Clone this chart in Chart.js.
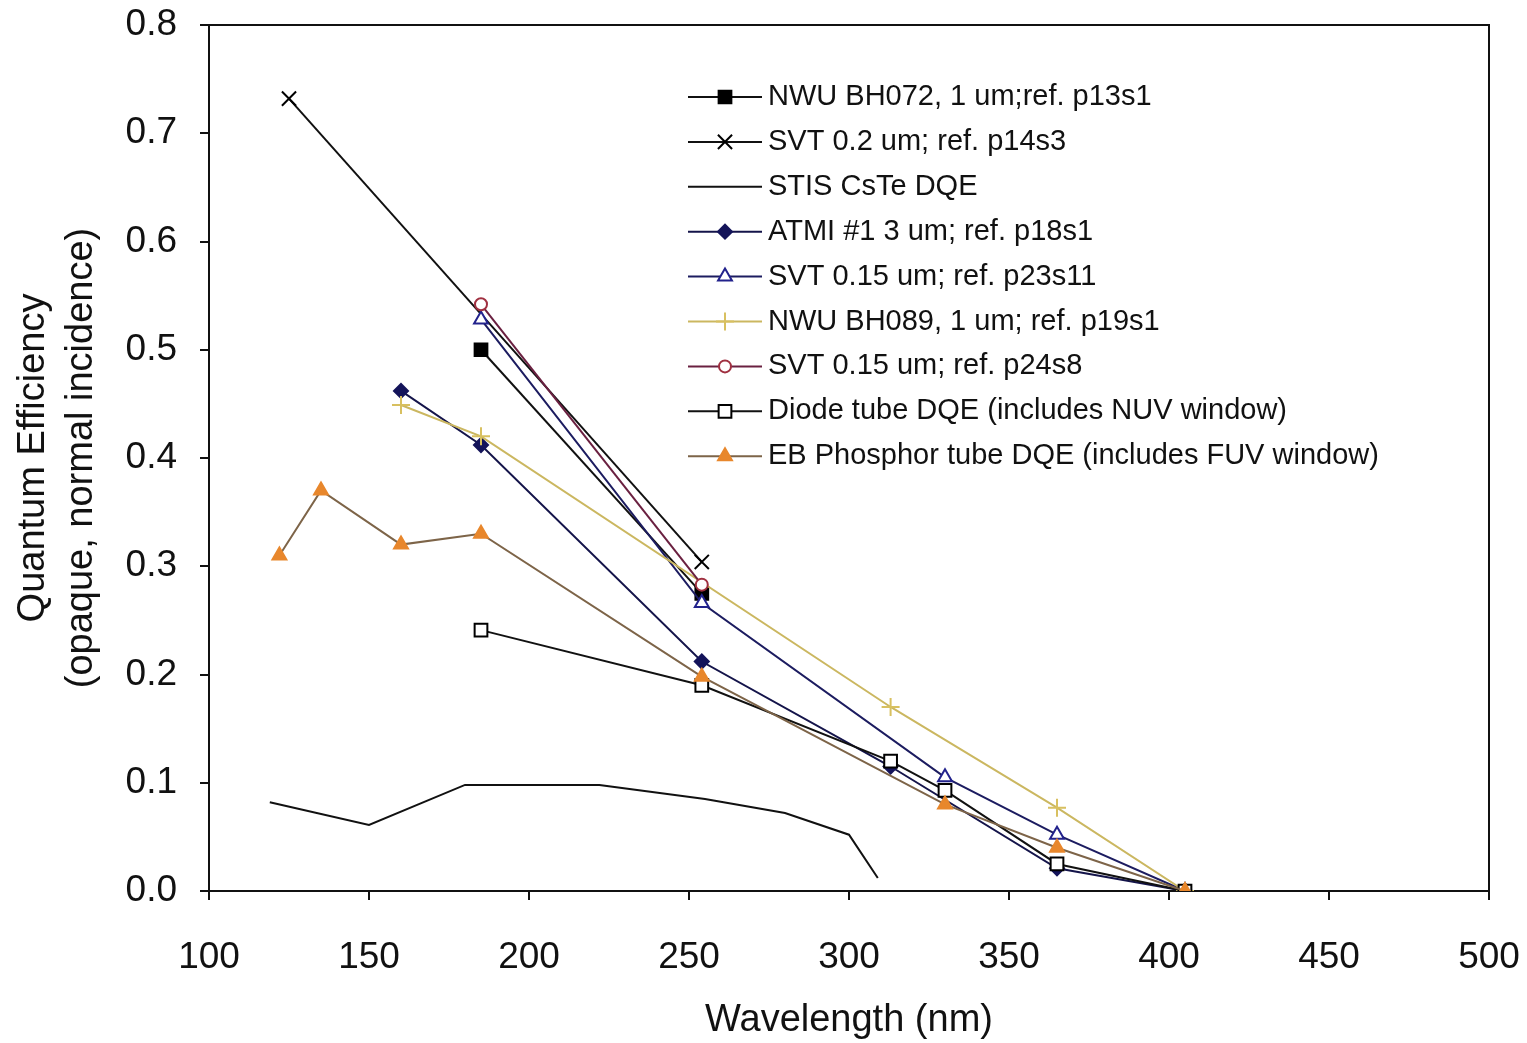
<!DOCTYPE html>
<html>
<head>
<meta charset="utf-8">
<title>Quantum Efficiency vs Wavelength</title>
<script src="https://cdn.jsdelivr.net/npm/chart.js@4.4.1/dist/chart.umd.min.js"></script>
<style>
  html, body { margin: 0; padding: 0; background: #ffffff; }
  #wrap { width: 1527px; height: 1043px; }
</style>
</head>
<body>
<div id="wrap"><canvas id="qeChart" width="1527" height="1043"></canvas></div>
<script>
// --- axis ticks ---
const xTicks = [100, 150, 200, 250, 300, 350, 400, 450, 500];
const yTicks = [0, 0.1, 0.2, 0.3, 0.4, 0.5, 0.6, 0.7, 0.8];

// --- series names (legend order) ---
const seriesNames = [
    'NWU BH072, 1 um;ref. p13s1',
    'SVT 0.2 um; ref. p14s3',
    'STIS CsTe DQE',
    'ATMI #1 3 um; ref. p18s1',
    'SVT 0.15 um; ref. p23s11',
    'NWU BH089, 1 um; ref. p19s1',
    'SVT 0.15 um; ref. p24s8',
    'Diode tube DQE (includes NUV window)',
    'EB Phosphor tube DQE (includes FUV window)'
];

// --- values: wavelength (nm) / quantum efficiency ---
const bh072Wave = [185, 254];
const bh072QE   = [0.500, 0.275];

const svt02Wave = [125, 254];
const svt02QE   = [0.732, 0.304];

const stisWave = [119, 150, 180, 222, 255, 280, 300, 309];
const stisQE   = [0.082, 0.061, 0.098, 0.098, 0.085, 0.072, 0.052, 0.012];

const atmiWave = [160, 185, 254, 313, 365, 405];
const atmiQE   = [0.462, 0.412, 0.212, 0.115, 0.021, 0.000];

const svt015aWave = [185, 254, 330, 365, 405];
const svt015aQE   = [0.528, 0.266, 0.105, 0.052, 0.000];

const bh089Wave = [160, 185, 313, 365, 405];
const bh089QE   = [0.449, 0.420, 0.170, 0.077, 0.000];

const svt015bWave = [185, 254];
const svt015bQE   = [0.542, 0.283];

const diodeWave = [185, 254, 313, 330, 365, 405];
const diodeQE   = [0.241, 0.190, 0.120, 0.093, 0.025, 0.000];

const ebWave = [122, 135, 160, 185, 254, 330, 365, 405];
const ebQE   = [0.310, 0.370, 0.320, 0.330, 0.198, 0.080, 0.040, 0.000];

function pts(xs, ys) {
    return xs.map((x, i) => ({ x: x, y: ys[i] }));
}

const FONT = '"Liberation Sans", Arial, Helvetica, sans-serif';

// series styling
function series(i, data, line, style, radius, fill, stroke, width) {
    return {
        label: seriesNames[i],
        data: data,
        borderColor: line,
        borderWidth: width || 2,
        showLine: true,
        tension: 0,
        pointStyle: style,
        pointRadius: radius,
        pointHoverRadius: radius,
        pointBackgroundColor: fill,
        pointBorderColor: stroke,
        pointBorderWidth: 2,
        order: seriesNames.length - i  // later series drawn on top, like Excel
    };
}

const datasets = [
    series(0, pts(bh072Wave, bh072QE), '#111111', 'rect', 9, '#000000', '#000000', 2),
    series(1, pts(svt02Wave, svt02QE), '#111111', 'crossRot', 10, '#000000', '#000000', 2),
    series(2, pts(stisWave, stisQE), '#111111', 'circle', 0, '#000000', '#000000', 2),
    series(3, pts(atmiWave, atmiQE), '#14144a', 'rectRot', 7, '#14145a', '#14145a', 2),
    series(4, pts(svt015aWave, svt015aQE), '#1c1c60', 'triangle', 8, '#ffffff', '#22228c', 2),
    series(5, pts(bh089Wave, bh089QE), '#cbb760', 'cross', 9, '#d8c060', '#d8c060', 2),
    series(6, pts(svt015bWave, svt015bQE), '#6a2040', 'circle', 6, '#ffffff', '#a03040', 2),
    series(7, pts(diodeWave, diodeQE), '#111111', 'rect', 9, '#ffffff', '#000000', 2),
    series(8, pts(ebWave, ebQE), '#7d6448', 'triangle', 8, '#e8872c', '#e8872c', 2)
];

// legend drawn inside the plot area
const legendBox = { x: 688, y: 97, lineLen: 74, gap: 44.9, textX: 768 };
const insideLegend = {
    id: 'insideLegend',
    afterDatasetsDraw(chart) {
        const ctx = chart.ctx;
        chart.data.datasets.forEach((ds, i) => {
            const y = legendBox.y + i * legendBox.gap;
            ctx.save();
            ctx.strokeStyle = ds.borderColor;
            ctx.lineWidth = ds.borderWidth;
            ctx.beginPath();
            ctx.moveTo(legendBox.x, y);
            ctx.lineTo(legendBox.x + legendBox.lineLen, y);
            ctx.stroke();
            if (ds.pointRadius > 0) {
                ctx.fillStyle = ds.pointBackgroundColor;
                ctx.strokeStyle = ds.pointBorderColor;
                ctx.lineWidth = ds.pointBorderWidth;
                Chart.helpers.drawPoint(ctx, {
                    pointStyle: ds.pointStyle,
                    radius: ds.pointRadius,
                    borderWidth: ds.pointBorderWidth,
                    rotation: 0
                }, legendBox.x + legendBox.lineLen / 2, y);
            }
            ctx.fillStyle = '#111111';
            ctx.font = '29px ' + FONT;
            ctx.textBaseline = 'middle';
            ctx.textAlign = 'left';
            ctx.fillText(ds.label, legendBox.textX, y);
            ctx.restore();
        });
    }
};

// box round the plot area (top and right edges)
const plotFrame = {
    id: 'plotFrame',
    beforeDatasetsDraw(chart) {
        const a = chart.chartArea;
        const ctx = chart.ctx;
        ctx.save();
        ctx.strokeStyle = '#111111';
        ctx.lineWidth = 2;
        ctx.strokeRect(a.left, a.top, a.right - a.left, a.bottom - a.top);
        ctx.restore();
    }
};

new Chart(document.getElementById('qeChart'), {
    type: 'scatter',
    data: { datasets: datasets },
    options: {
        responsive: false,
        animation: false,
        layout: { padding: { left: 0, right: 38, top: 25, bottom: 0 } },
        plugins: {
            legend: { display: false },
            tooltip: { enabled: false }
        },
        scales: {
            x: {
                type: 'linear',
                min: 100,
                max: 500,
                afterBuildTicks: axis => { axis.ticks = xTicks.map(v => ({ value: v })); },
                afterFit: scale => {
                    scale.height = 152;
                    scale.paddingLeft = 0;
                    scale.paddingRight = 0;
                },
                grid: { drawOnChartArea: false, drawTicks: true, tickLength: 9, color: '#111111', lineWidth: 2 },
                border: { color: '#111111', width: 2 },
                ticks: {
                    color: '#111111',
                    font: { family: FONT, size: 37 },
                    padding: 36,
                    maxRotation: 0,
                    callback: v => String(v)
                },
                title: {
                    display: true,
                    text: 'Wavelength (nm)',
                    color: '#111111',
                    font: { family: FONT, size: 38 },
                    padding: { top: 0, bottom: 0 }
                }
            },
            y: {
                type: 'linear',
                min: 0,
                max: 0.8,
                afterBuildTicks: axis => { axis.ticks = yTicks.map(v => ({ value: v })); },
                afterFit: scale => {
                    scale.width = 209;
                    scale.paddingTop = 0;
                    scale.paddingBottom = 0;
                },
                grid: { drawOnChartArea: false, drawTicks: true, tickLength: 9, color: '#111111', lineWidth: 2 },
                border: { color: '#111111', width: 2 },
                ticks: {
                    color: '#111111',
                    font: { family: FONT, size: 37 },
                    padding: 23,
                    callback: v => Number(v).toFixed(1)
                },
                title: {
                    display: true,
                    text: ['Quantum Efficiency', '(opaque, normal incidence)'],
                    color: '#111111',
                    font: { family: FONT, size: 38, lineHeight: 1.25 },
                    padding: { top: 10, bottom: 0 }
                }
            }
        }
    },
    plugins: [plotFrame, insideLegend]
});
</script>
</body>
</html>
